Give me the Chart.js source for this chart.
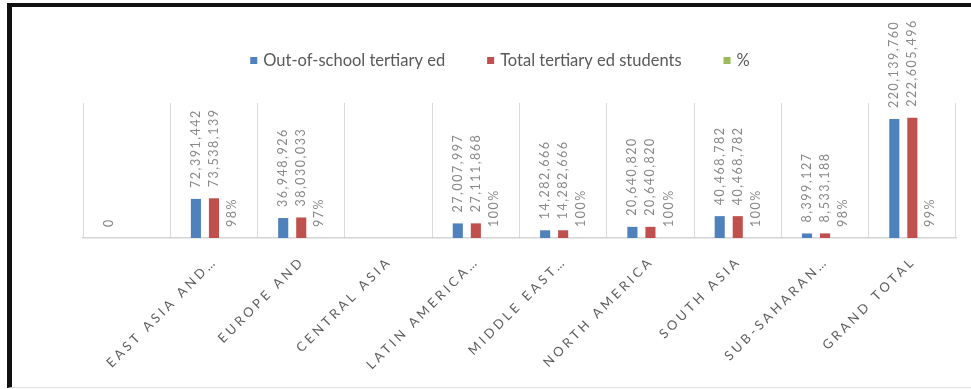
<!DOCTYPE html>
<html>
<head>
<meta charset="utf-8">
<script src="https://cdn.jsdelivr.net/npm/chart.js@4/dist/chart.umd.min.js"></script>
<style>
  html, body { margin: 0; padding: 0; background: #fff; }
  #wrap { position: relative; width: 971px; height: 389px; overflow: hidden; }
  #wrap canvas { position: absolute; left: 0; top: 0; }
  #frame {
    position: absolute; left: 7px; top: 3px; right: -10px; bottom: 1px;
    border-left: 5px solid #111; border-top: 4px solid #111; border-bottom: 1px solid #e2e2e2;
    pointer-events: none;
  }
</style>
</head>
<body>
<div id="wrap">
  <canvas id="chart" width="971" height="389"></canvas>
  <div id="frame"></div>
</div>
<script>
// Regions (the first row has no name in the source table)
const categories = ['', 'EAST ASIA AND\u2026', 'EUROPE AND', 'CENTRAL ASIA', 'LATIN AMERICA\u2026',
  'MIDDLE EAST\u2026', 'NORTH AMERICA', 'SOUTH ASIA', 'SUB-SAHARAN\u2026', 'GRAND TOTAL'];

// Out-of-school tertiary education population
const outOfSchool = [0, 72391442, 36948926, null, 27007997, 14282666, 20640820, 40468782, 8399127, 220139760];

// Total tertiary education students
const totalStudents = [null, 73538139, 38030033, null, 27111868, 14282666, 20640820, 40468782, 8533188, 222605496];

// Share (out-of-school / total)
const share = [null, 0.98, 0.97, null, 1.00, 1.00, 1.00, 1.00, 0.98, 0.99];

const seriesNames = ['Out-of-school tertiary ed', 'Total tertiary ed students', '%'];
const seriesColors = ['#4F81BD', '#C0504D', '#9BBB59'];
const seriesData = [outOfSchool, totalStudents, share];

const LEGEND_CENTER_X = 500;
const LEGEND_Y = 60.5;

// Rotated value labels above each bar
const valueLabels = {
  id: 'valueLabels',
  afterDatasetsDraw(chart) {
    const ctx = chart.ctx;
    ctx.save();
    ctx.font = '12.5px Lato';
    ctx.fillStyle = '#888888';
    ctx.letterSpacing = '1.5px';
    ctx.textAlign = 'left';
    ctx.textBaseline = 'middle';
    chart.data.datasets.forEach((ds, di) => {
      const meta = chart.getDatasetMeta(di);
      meta.data.forEach((bar, i) => {
        const v = ds.data[i];
        if (v === null || v === undefined) return;
        const text = di === 2 ? Math.round(v * 100) + '%' : v.toLocaleString('en-US');
        ctx.save();
        ctx.translate(bar.x, bar.y - 11);
        ctx.rotate(-Math.PI / 2);
        ctx.fillText(text, 0, 0);
        ctx.restore();
      });
    });
    ctx.restore();
  }
};

// Spaced, upper-case category labels at 45 degrees
const categoryLabels = {
  id: 'categoryLabels',
  afterDraw(chart) {
    const ctx = chart.ctx;
    const xs = chart.scales.x;
    const bottom = chart.chartArea.bottom;
    ctx.save();
    ctx.font = '13px Lato';
    ctx.fillStyle = '#5e5e5e';
    ctx.letterSpacing = '3.3px';
    ctx.textAlign = 'right';
    ctx.textBaseline = 'middle';
    chart.data.labels.forEach((lab, i) => {
      if (!lab) return;
      const x = xs.getPixelForValue(i);
      ctx.save();
      ctx.translate(x + 1, bottom + 21);
      ctx.rotate(-Math.PI / 4);
      ctx.fillText(lab, 0, 0);
      ctx.restore();
    });
    ctx.restore();
  }
};

// Legend row across the top
const topLegend = {
  id: 'topLegend',
  afterDraw(chart) {
    const ctx = chart.ctx;
    const box = 7, boxGap = 6, itemGap = 42;
    ctx.save();
    ctx.font = '16.5px Lato';
    ctx.textAlign = 'left';
    ctx.textBaseline = 'middle';
    const items = chart.data.datasets.map(ds => ({
      text: ds.label, color: ds.backgroundColor,
      w: box + boxGap + ctx.measureText(ds.label).width
    }));
    const total = items.reduce((s, it) => s + it.w, 0) + itemGap * (items.length - 1);
    let x = LEGEND_CENTER_X - total / 2;
    items.forEach(it => {
      ctx.fillStyle = it.color;
      ctx.fillRect(x, LEGEND_Y - box / 2, box, box);
      ctx.fillStyle = '#595959';
      ctx.fillText(it.text, x + box + boxGap, LEGEND_Y + 0.5);
      x += it.w + itemGap;
    });
    ctx.restore();
  }
};

new Chart(document.getElementById('chart'), {
  type: 'bar',
  data: {
    labels: categories,
    datasets: seriesNames.map((name, k) => ({
      label: name,
      data: seriesData[k],
      backgroundColor: seriesColors[k],
      categoryPercentage: 0.62,
      barPercentage: 0.56
    }))
  },
  options: {
    responsive: false,
    animation: false,
    devicePixelRatio: 1,
    layout: { padding: { left: 83, right: 15, top: 103, bottom: 0 } },
    plugins: { legend: { display: false }, tooltip: { enabled: false } },
    scales: {
      x: {
        grid: { color: '#d9d9d9', lineWidth: 1, offset: true, drawTicks: false },
        border: { color: '#d4d4d4', width: 1.5 },
        ticks: { display: false },
        afterFit(scale) { scale.height = 151; }
      },
      y: { display: false, min: 0, max: 250000000 }
    }
  },
  plugins: [valueLabels, categoryLabels, topLegend]
});
</script>
</body>
</html>
